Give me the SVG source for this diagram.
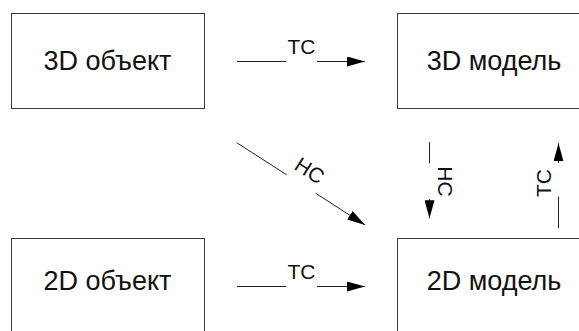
<svg xmlns="http://www.w3.org/2000/svg" width="579" height="331" viewBox="0 0 579 331">
<style>
.box{fill:#ffffff;stroke:#3a3a3a;stroke-width:1}
.lbl{font-family:"Liberation Sans",Arial,sans-serif;font-size:27px;fill:#111;text-anchor:middle}
.ln{stroke:#222;stroke-width:1;fill:none}
.ct{font-family:"Liberation Sans",Arial,sans-serif;font-size:21px;fill:#111;text-anchor:middle}
</style>
<defs>
<marker id="ah" markerUnits="userSpaceOnUse" markerWidth="18" markerHeight="10" refX="18" refY="5" orient="auto">
<path d="M0,0 L18,5 L0,10 z" fill="#000"/>
</marker>
</defs>
<rect width="579" height="331" fill="#ffffff"/>
<g id="node-3d-object">
<rect class="box" x="11.5" y="13.5" width="193" height="95"/>
<text class="lbl" x="107.5" y="70">3D объект</text>
</g>
<g id="node-3d-model">
<rect class="box" x="397.5" y="13.5" width="193" height="95"/>
<text class="lbl" x="494" y="70">3D модель</text>
</g>
<g id="node-2d-object">
<rect class="box" x="11.5" y="238.5" width="193" height="95"/>
<text class="lbl" x="107.5" y="290">2D объект</text>
</g>
<g id="node-2d-model">
<rect class="box" x="397.5" y="238.5" width="193" height="95"/>
<text class="lbl" x="494" y="290">2D модель</text>
</g>
<g id="connectors">
<g id="c-3dobj-3dmodel">
<line class="ln" x1="237" y1="61.5" x2="286" y2="61.5"/>
<line class="ln" x1="317" y1="61.5" x2="365" y2="61.5" marker-end="url(#ah)"/>
<text class="ct" x="301.5" y="53.5">ТС</text>
</g>
<g id="c-2dobj-2dmodel">
<line class="ln" x1="237" y1="286.5" x2="286" y2="286.5"/>
<line class="ln" x1="317" y1="286.5" x2="365" y2="286.5" marker-end="url(#ah)"/>
<text class="ct" x="301.5" y="278.5">ТС</text>
</g>
<g id="c-3dobj-2dmodel">
<line class="ln" x1="236.7" y1="142.7" x2="286.7" y2="174.8"/>
<line class="ln" x1="315.7" y1="193.3" x2="365" y2="225" marker-end="url(#ah)"/>
<text class="ct" transform="translate(305.8 176.7) rotate(32.7)" x="0" y="0">НС</text>
</g>
<g id="c-3dmodel-2dmodel">
<line class="ln" x1="429.5" y1="142" x2="429.5" y2="163.3"/>
<line class="ln" x1="429.5" y1="199" x2="429.5" y2="218.3" marker-end="url(#ah)"/>
<text class="ct" transform="translate(437.8 181.5) rotate(90)" x="0" y="0">НС</text>
</g>
<g id="c-2dmodel-3dmodel">
<line class="ln" x1="558.5" y1="228.3" x2="558.5" y2="196.7"/>
<line class="ln" x1="558.5" y1="163" x2="558.5" y2="143.3" marker-end="url(#ah)"/>
<text class="ct" transform="translate(550.5 183) rotate(-90)" x="0" y="0">ТС</text>
</g>
</g>
</svg>
